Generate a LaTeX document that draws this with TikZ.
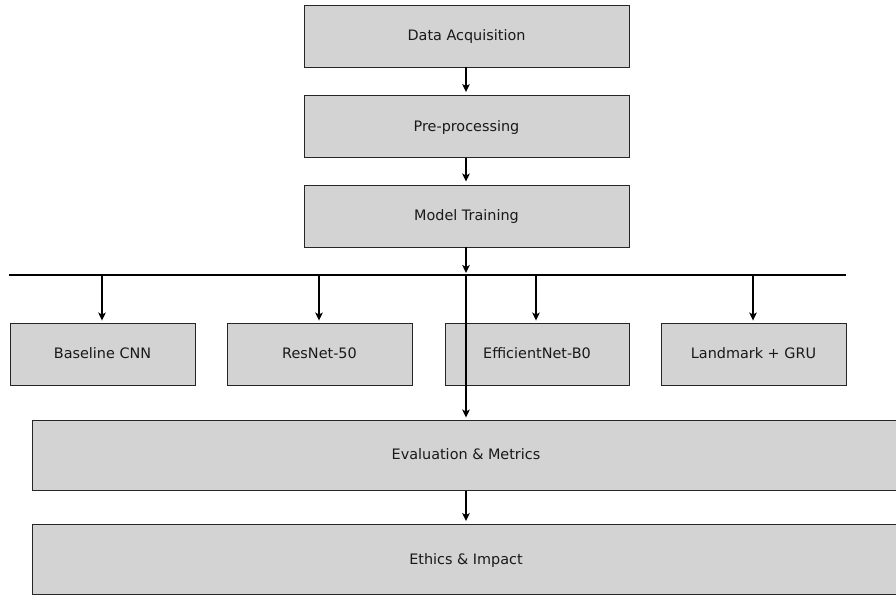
\documentclass[tikz,border=0pt]{standalone}
\usepackage{fontspec}
\setmainfont{DejaVu Sans}
\usetikzlibrary{arrows.meta}
\begin{document}
\begin{tikzpicture}[x=1pt,y=-1pt,
  box/.style={draw=black!85, line width=0.9pt, fill={rgb,255:red,211;green,211;blue,211}, inner sep=0pt, text=black!90, text height=10.5pt, text depth=1pt, font=\fontsize{14.4}{16}\selectfont},
  arr/.style={draw=black, line width=2pt, -{Stealth[length=8pt,width=7.5pt,inset=2pt]}},
  bus/.style={draw=black, line width=2pt}]
\useasboundingbox (0,0) rectangle (896,597);
\clip (0,0) rectangle (896,597);
% main chain
\node[box, minimum width=325pt, minimum height=62pt] (da) at (466.5,36) {Data Acquisition};
\node[box, minimum width=325pt, minimum height=62pt] (pp) at (466.5,126.5) {Pre-processing};
\node[box, minimum width=325pt, minimum height=62pt] (mt) at (466.5,216) {Model Training};
% models
\node[box, minimum width=185pt, minimum height=62pt] (cnn) at (102.5,354) {Baseline CNN};
\node[box, minimum width=185pt, minimum height=62pt] (res) at (319.5,354) {ResNet-50};
\node[box, minimum width=184pt, minimum height=62pt] (eff) at (537,354) {EfficientNet-B0};
\node[box, minimum width=185pt, minimum height=62pt] (lm) at (753.5,354) {Landmark + GRU};
% evaluation
\node[box, minimum width=868pt, minimum height=70pt] (ev) at (466,455) {Evaluation \& Metrics};
\node[box, minimum width=868pt, minimum height=70pt] (eth) at (466,559.5) {Ethics \& Impact};
% bus
\coordinate (busL) at (9,275);
\coordinate (busR) at (846,275);
\coordinate (busIn) at (466,273);
\coordinate (bcnn) at (102,276);
\coordinate (bres) at (319,276);
\coordinate (beff) at (536,276);
\coordinate (blm) at (753,276);
\coordinate (bmid) at (466,276);
\draw[bus] (busL) -- (busR);
% arrows
\draw[arr, shorten >=3pt] (da.south -| bmid) -- (pp.north -| bmid);
\draw[arr, shorten >=3pt] (pp.south -| bmid) -- (mt.north -| bmid);
\draw[arr] (mt.south -| bmid) -- (busIn);
\draw[arr, shorten >=2pt] (bcnn) -- (bcnn |- cnn.north);
\draw[arr, shorten >=2pt] (bres) -- (bres |- res.north);
\draw[arr, shorten >=2pt] (beff) -- (beff |- eff.north);
\draw[arr, shorten >=2pt] (blm) -- (blm |- lm.north);
\draw[arr, shorten >=2pt] (bmid) -- (bmid |- ev.north);
\draw[arr, shorten >=3pt, shorten <=1pt] (ev.south) -- (eth.north);
\end{tikzpicture}
\end{document}
